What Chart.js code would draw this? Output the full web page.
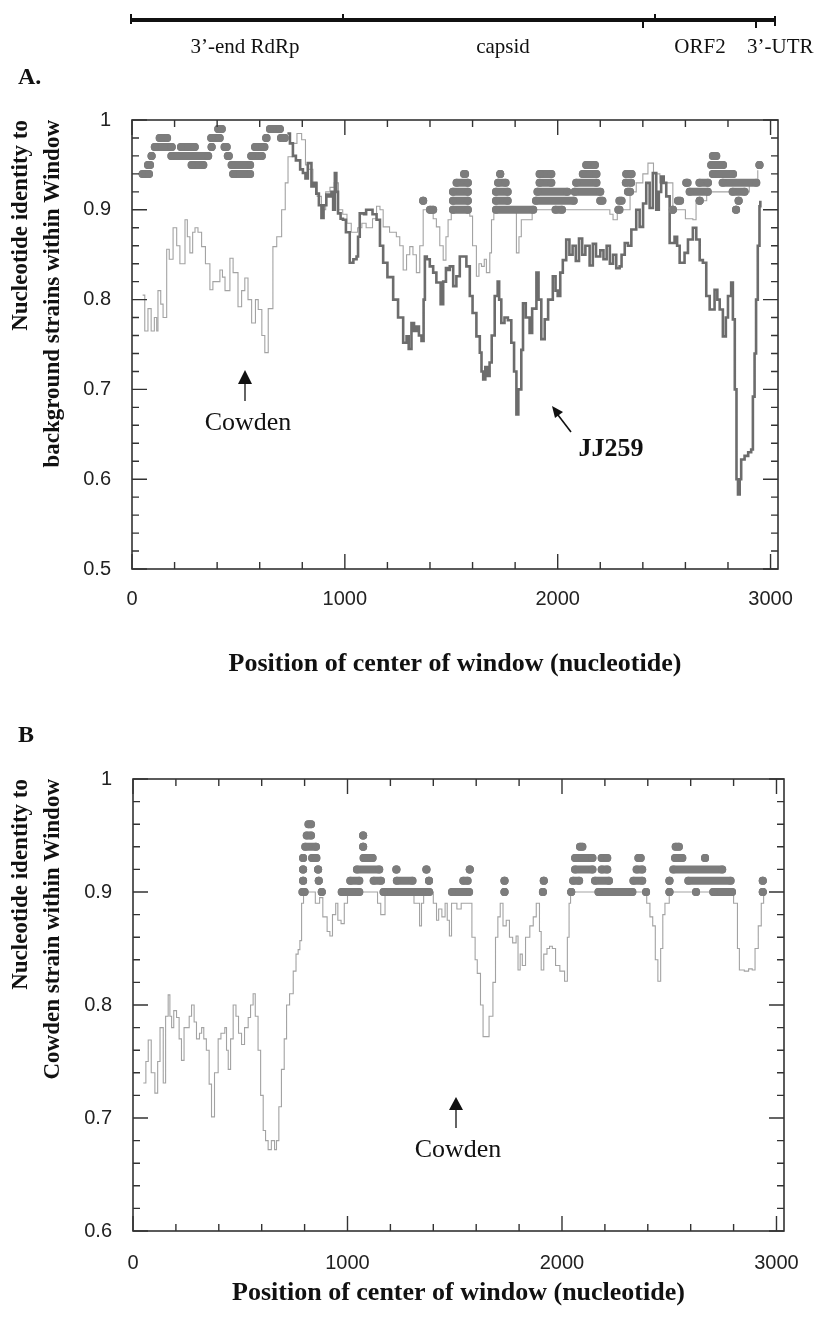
<!DOCTYPE html>
<html><head><meta charset="utf-8">
<script src="https://cdn.jsdelivr.net/npm/chart.js@4.4.0/dist/chart.umd.min.js"></script>
<style>
html,body{margin:0;padding:0;background:#fff;}
body{width:832px;height:1317px;position:relative;overflow:hidden;font-family:"Liberation Serif",serif;color:#111;}
.t{position:absolute;white-space:nowrap;line-height:1;}
canvas{position:absolute;left:0;}
#cA{top:90px;}
#cB{top:730px;}
#ov{position:absolute;left:0;top:0;}
</style></head><body>
<canvas id="cA" width="832" height="600" style="width:832px;height:600px"></canvas>
<canvas id="cB" width="832" height="587" style="width:832px;height:587px"></canvas>
<svg id="ov" width="832" height="1317" viewBox="0 0 832 1317">
  <rect x="130" y="18" width="646" height="4" fill="#111"/>
  <rect x="130" y="14" width="2" height="10" fill="#111"/>
  <rect x="342" y="14" width="2" height="6" fill="#111"/>
  <rect x="642" y="20" width="2" height="8" fill="#111"/>
  <rect x="654" y="14" width="2" height="6" fill="#111"/>
  <rect x="755" y="20" width="2" height="8" fill="#111"/>
  <rect x="774" y="16" width="2" height="10" fill="#111"/>
  <line x1="245" y1="383" x2="245" y2="401" stroke="#111" stroke-width="1.3"/>
  <polygon points="238,384 252,384 245,370" fill="#111"/>
  <line x1="456" y1="1109" x2="456" y2="1128" stroke="#111" stroke-width="1.3"/>
  <polygon points="449,1110 463,1110 456,1097" fill="#111"/>
  <line x1="558" y1="415" x2="571" y2="432" stroke="#111" stroke-width="1.6"/>
  <polygon points="552,406 563,412 555,418" fill="#111"/>
</svg>
<div class="t" style="left:245px;top:36px;font-size:21px;transform:translateX(-50%)">3’-end RdRp</div>
<div class="t" style="left:503px;top:36px;font-size:21px;transform:translateX(-50%)">capsid</div>
<div class="t" style="left:700px;top:36px;font-size:21px;transform:translateX(-50%)">ORF2</div>
<div class="t" style="left:747px;top:36px;font-size:21px;">3’-UTR</div>
<div class="t" style="left:18px;top:64px;font-size:24px;font-weight:bold;">A.</div>
<div class="t" style="left:18px;top:722px;font-size:24px;font-weight:bold;">B</div>
<div class="t" style="left:248px;top:409px;font-size:26px;transform:translateX(-50%)">Cowden</div>
<div class="t" style="left:611px;top:435px;font-size:26px;font-weight:bold;transform:translateX(-50%)">JJ259</div>
<div class="t" style="left:458px;top:1136px;font-size:26px;transform:translateX(-50%)">Cowden</div>
<script>
// ---------------- DATA ----------------
const xTicks = [0,200,400,600,800,1000,1200,1400,1600,1800,2000,2200,2400,2600,2800,3000];
const yTicksA = [0.5,0.52,0.54,0.56,0.58,0.6,0.62,0.64,0.66,0.68,0.7,0.72,0.74,0.76,0.78,0.8,0.82,0.84,0.86,0.88,0.9,0.92,0.94,0.96,0.98,1];
const yTicksB = [0.6,0.62,0.64,0.66,0.68,0.7,0.72,0.74,0.76,0.78,0.8,0.82,0.84,0.86,0.88,0.9,0.92,0.94,0.96,0.98,1];

// Panel A: light line (Cowden vs background)
const lightAx = [50,60,75,90,105,116,122,135,146,163,175,193,210,225,249,260,272,285,296,310,327,345,366,380,395,413,425,437,460,475,498,515,530,545,562,580,593,610,624,640,662,680,703,720,733,756,775,797,815,830,850,870,890,910,930,950,970,990,1010,1030,1060,1080,1100,1130,1149,1165,1180,1210,1242,1258,1274,1290,1305,1320,1336,1352,1368,1385,1399,1415,1430,1446,1462,1475,1485,1500,1540,1587,1600,1618,1630,1642,1655,1665,1681,1689,1700,1790,1806,1818,1829,1860,1880,2070,2200,2226,2245,2260,2280,2340,2369,2400,2424,2450,2480,2541,2600,2635,2650,2700,2900,2940];
const lightAy = [0.805,0.765,0.79,0.765,0.78,0.765,0.81,0.795,0.78,0.856,0.845,0.88,0.86,0.84,0.889,0.87,0.852,0.875,0.88,0.875,0.859,0.84,0.811,0.82,0.82,0.833,0.825,0.81,0.846,0.83,0.792,0.81,0.824,0.8,0.774,0.8,0.789,0.76,0.741,0.79,0.859,0.87,0.9,0.93,0.959,0.974,0.985,0.978,0.95,0.945,0.93,0.915,0.9,0.92,0.925,0.93,0.9,0.895,0.885,0.875,0.88,0.885,0.88,0.89,0.904,0.9,0.881,0.875,0.87,0.86,0.833,0.85,0.859,0.85,0.83,0.86,0.9,0.9,0.896,0.89,0.881,0.86,0.844,0.87,0.889,0.9,0.9,0.893,0.86,0.826,0.84,0.837,0.845,0.83,0.852,0.889,0.9,0.9,0.852,0.87,0.889,0.889,0.9,0.9,0.9,0.9,0.895,0.889,0.9,0.92,0.93,0.94,0.952,0.94,0.93,0.9,0.89,0.889,0.91,0.92,0.93,0.944];

// Panel A: dark line (JJ259)
const darkAx = [730,742,756,770,790,803,815,826,843,855,866,878,890,900,913,925,937,945,953,960,968,980,991,1005,1023,1040,1055,1062,1070,1090,1100,1117,1130,1149,1165,1180,1200,1227,1250,1274,1290,1300,1313,1325,1336,1348,1360,1370,1376,1385,1399,1415,1430,1450,1462,1475,1485,1493,1509,1524,1540,1556,1571,1587,1600,1618,1634,1642,1650,1660,1670,1680,1690,1704,1718,1725,1735,1750,1766,1782,1795,1806,1815,1829,1837,1850,1868,1880,1900,1910,1923,1939,1955,1977,1990,2000,2012,2024,2040,2055,2070,2085,2100,2115,2130,2150,2165,2180,2200,2215,2230,2245,2260,2275,2291,2300,2315,2330,2346,2369,2385,2401,2416,2432,2447,2463,2475,2486,2498,2510,2526,2549,2561,2573,2596,2612,2635,2651,2667,2682,2698,2714,2737,2750,2761,2776,2790,2800,2815,2823,2832,2840,2847,2855,2862,2878,2895,2909,2917,2925,2932,2940,2948,2952];
const darkAy = [0.985,0.974,0.96,0.955,0.945,0.941,0.935,0.952,0.926,0.93,0.918,0.905,0.891,0.905,0.917,0.915,0.92,0.9,0.941,0.92,0.896,0.89,0.889,0.875,0.841,0.845,0.848,0.87,0.896,0.895,0.9,0.9,0.895,0.889,0.86,0.841,0.825,0.8,0.78,0.752,0.759,0.745,0.774,0.765,0.77,0.76,0.754,0.8,0.848,0.845,0.837,0.83,0.819,0.795,0.82,0.835,0.833,0.837,0.815,0.826,0.848,0.848,0.837,0.804,0.785,0.759,0.741,0.72,0.711,0.725,0.715,0.73,0.76,0.804,0.82,0.8,0.774,0.78,0.777,0.752,0.72,0.672,0.7,0.744,0.796,0.78,0.763,0.79,0.83,0.8,0.756,0.778,0.8,0.826,0.81,0.804,0.83,0.844,0.867,0.85,0.86,0.843,0.868,0.85,0.86,0.838,0.862,0.848,0.855,0.845,0.86,0.84,0.85,0.835,0.837,0.85,0.863,0.86,0.878,0.9,0.881,0.907,0.93,0.902,0.941,0.9,0.92,0.937,0.93,0.915,0.863,0.87,0.86,0.841,0.852,0.867,0.88,0.867,0.844,0.841,0.804,0.789,0.811,0.8,0.789,0.759,0.78,0.804,0.819,0.778,0.7,0.6,0.583,0.6,0.622,0.626,0.63,0.633,0.692,0.74,0.8,0.86,0.904,0.91];

// Panel A: high-identity dots  [identity, first centre, last centre]
const dotsA = [
  [0.99,405,422],[0.99,648,695],
  [0.98,130,165],[0.98,372,412],[0.98,630,633],[0.98,700,718],
  [0.97,107,187],[0.97,230,295],[0.97,374,374],[0.97,435,445],[0.97,578,622],
  [0.96,92,92],[0.96,185,358],[0.96,450,455],[0.96,560,610],
  [0.95,75,85],[0.95,280,335],[0.95,468,555],
  [0.94,50,80],[0.94,475,555],
  [0.91,1368,1368],[0.90,1400,1415],
  [0.90,1508,1578],[0.91,1508,1578],[0.92,1508,1578],[0.93,1525,1578],[0.94,1560,1565],
  [0.90,1710,1885],[0.91,1710,1765],[0.92,1710,1765],[0.93,1720,1755],[0.94,1730,1730],
  [0.90,1990,2020],[0.91,1898,2075],[0.91,2200,2210],[0.92,1905,2045],[0.92,2080,2200],
  [0.93,1915,1970],[0.93,2087,2182],[0.94,1915,1970],[0.94,2118,2182],[0.95,2134,2175],
  [0.90,2285,2290],[0.91,2290,2300],[0.92,2330,2340],[0.93,2320,2345],[0.94,2322,2347],
  [0.90,2541,2541],[0.90,2838,2838],[0.91,2565,2575],[0.91,2667,2667],[0.91,2850,2850],
  [0.92,2620,2705],[0.92,2822,2878],[0.93,2604,2610],[0.93,2666,2706],[0.93,2775,2933],
  [0.94,2729,2824],[0.95,2721,2777],[0.96,2729,2745],[0.95,2948,2948]
];

// Panel B: light line (identity to Cowden)
const lightBx = [48,60,71,85,102,115,126,141,152,164,172,180,190,203,215,226,238,249,262,273,285,296,310,320,330,342,355,366,380,397,410,428,436,444,455,467,480,492,506,520,537,548,560,570,583,595,607,618,630,645,660,669,680,692,705,716,730,747,760,770,778,786,795,830,850,870,885,894,905,918,930,945,955,970,985,1000,1120,1140,1155,1165,1175,1300,1310,1336,1345,1355,1390,1400,1415,1425,1440,1455,1465,1475,1485,1510,1530,1570,1580,1595,1605,1620,1632,1648,1660,1678,1690,1701,1712,1725,1740,1755,1770,1786,1795,1805,1815,1830,1850,1866,1880,1895,1903,1915,1930,1942,1955,1970,1990,2012,2025,2033,2040,2380,2395,2410,2423,2435,2447,2460,2470,2480,2500,2790,2800,2811,2818,2827,2850,2870,2887,2900,2915,2929,2940];
const lightBy = [0.731,0.75,0.769,0.74,0.722,0.75,0.78,0.731,0.79,0.809,0.79,0.78,0.795,0.789,0.77,0.751,0.78,0.78,0.79,0.8,0.785,0.77,0.775,0.78,0.77,0.76,0.73,0.701,0.74,0.77,0.775,0.78,0.76,0.743,0.77,0.8,0.79,0.775,0.765,0.78,0.789,0.8,0.81,0.79,0.76,0.72,0.689,0.68,0.672,0.68,0.672,0.68,0.71,0.743,0.77,0.8,0.81,0.83,0.845,0.849,0.857,0.89,0.9,0.9,0.89,0.895,0.878,0.878,0.865,0.861,0.88,0.89,0.875,0.872,0.89,0.9,0.9,0.89,0.88,0.88,0.9,0.9,0.89,0.87,0.89,0.9,0.9,0.89,0.875,0.885,0.878,0.89,0.875,0.861,0.89,0.885,0.89,0.89,0.86,0.84,0.828,0.8,0.772,0.772,0.79,0.82,0.86,0.878,0.89,0.87,0.875,0.86,0.855,0.861,0.831,0.845,0.835,0.86,0.87,0.878,0.89,0.865,0.831,0.845,0.85,0.852,0.85,0.835,0.83,0.821,0.86,0.89,0.9,0.9,0.89,0.878,0.87,0.84,0.821,0.85,0.88,0.89,0.9,0.9,0.89,0.89,0.85,0.831,0.83,0.832,0.831,0.85,0.87,0.89,0.9];

// Panel B: high-identity dots  [identity, first centre, last centre]
const dotsB = [
  [0.96,818,830],[0.95,810,830],[0.94,803,853],[0.93,793,793],[0.93,835,855],
  [0.92,793,793],[0.92,863,863],[0.91,793,793],[0.91,866,866],[0.90,790,800],[0.90,880,880],
  [0.90,973,1055],[0.90,1168,1381],[0.91,1013,1055],[0.91,1122,1156],[0.91,1230,1303],[0.91,1380,1380],
  [0.92,1044,1148],[0.92,1228,1228],[0.92,1368,1368],[0.93,1075,1117],[0.94,1073,1073],[0.95,1073,1073],
  [0.90,1487,1567],[0.90,1732,1732],[0.90,1911,1911],[0.90,2043,2043],[0.90,2170,2328],[0.90,2392,2392],
  [0.90,2501,2501],[0.90,2625,2625],[0.90,2705,2793],[0.90,2936,2936],
  [0.91,1540,1560],[0.91,1732,1732],[0.91,1915,1915],[0.91,2052,2080],[0.91,2154,2219],[0.91,2333,2374],
  [0.91,2501,2501],[0.91,2589,2786],[0.91,2936,2936],
  [0.92,1570,1570],[0.92,2061,2142],[0.92,2185,2211],[0.92,2348,2374],[0.92,2519,2747],
  [0.93,2061,2142],[0.93,2185,2211],[0.93,2356,2367],[0.93,2527,2561],[0.93,2667,2667],
  [0.94,2084,2095],[0.94,2530,2545]
];

const xTitle = 'Position of center of window (nucleotide)';
const yTitleA = ['Nucleotide identity to', 'background strains within Window'];
const yTitleB = ['Nucleotide identity to', 'Cowden strain within Window'];

// ---------------- BUILD ----------------
const pts = (xs, ys) => xs.map((x, i) => ({x, y: ys[i]}));
const runs = list => {
  const d = [];
  list.forEach(([y, a, b]) => { d.push({x: a, y}); d.push({x: b, y}); d.push({x: b, y: null}); });
  return d;
};
const isMajorX = v => Math.round(v) % 1000 === 0;
const isMajorY = v => Math.abs(v * 10 - Math.round(v * 10)) < 1e-6;

const frameTicks = {
  id: 'frameTicks',
  afterDatasetsDraw(chart) {
    const {ctx, chartArea: a, scales: {x, y}} = chart;
    ctx.save();
    ctx.strokeStyle = '#333';
    ctx.lineWidth = 1.6;
    ctx.strokeRect(a.left, a.top, a.right - a.left, a.bottom - a.top);
    ctx.lineWidth = 1.4;
    ctx.beginPath();
    x.ticks.forEach(t => {
      const p = x.getPixelForValue(t.value);
      const L = isMajorX(t.value) ? 15 : 7;
      ctx.moveTo(p, a.bottom); ctx.lineTo(p, a.bottom - L);
      ctx.moveTo(p, a.top); ctx.lineTo(p, a.top + L);
    });
    y.ticks.forEach(t => {
      const p = y.getPixelForValue(t.value);
      const L = isMajorY(t.value) ? 15 : 7;
      ctx.moveTo(a.left, p); ctx.lineTo(a.left + L, p);
      ctx.moveTo(a.right, p); ctx.lineTo(a.right - L, p);
    });
    ctx.stroke();
    ctx.restore();
  }
};

function makeChart(id, cfg) {
  const datasets = [
    {data: runs(cfg.dots), borderColor: '#7c7c7c', backgroundColor: '#7c7c7c', borderWidth: 8,
     borderCapStyle: 'round', pointRadius: 4, pointBorderWidth: 0, spanGaps: false, order: 0},
  ];
  if (cfg.dark) datasets.push({data: cfg.dark, borderColor: '#6c6c6c', borderWidth: 2.6, pointRadius: 0, stepped: true, order: 1});
  datasets.push({data: cfg.light, borderColor: '#a3a3a3', borderWidth: 1.1, pointRadius: 0, stepped: true, order: 2});
  return new Chart(document.getElementById(id), {
    type: 'line',
    data: {datasets},
    plugins: [frameTicks],
    options: {
      responsive: false, animation: false, events: [],
      layout: {padding: {left: 0, top: cfg.padTop, right: cfg.padRight, bottom: 0}},
      plugins: {legend: {display: false}, tooltip: {enabled: false}},
      scales: {
        x: {
          type: 'linear', min: 0, max: 3035,
          grid: {display: false}, border: {display: false},
          afterBuildTicks: s => { s.ticks = xTicks.map(v => ({value: v})); },
          ticks: {autoSkip: false, maxRotation: 0, padding: cfg.xLabelPad,
                  color: '#222', font: {family: 'Liberation Sans', size: 20},
                  callback: v => (isMajorX(v) ? String(v) : '')},
          title: {display: true, text: xTitle, color: '#111',
                  font: {family: 'Liberation Serif', size: 26, weight: 'bold'}, padding: {top: 0, bottom: cfg.xTitlePad}},
          afterFit: s => { s.height = cfg.xAxisH; }
        },
        y: {
          type: 'linear', min: cfg.yMin, max: 1,
          grid: {display: false}, border: {display: false},
          afterBuildTicks: s => { s.ticks = cfg.yTicks.map(v => ({value: v})); },
          ticks: {autoSkip: false, padding: 13,
                  color: '#222', font: {family: 'Liberation Sans', size: 20},
                  callback: v => (isMajorY(v) ? String(Number(v.toFixed(1))) : '')},
          title: {display: true, text: cfg.yTitle, align: 'end', color: '#111',
                  font: {family: 'Liberation Serif', size: 23, weight: 'bold', lineHeight: 1.4}, padding: {top: 5, bottom: 0}},
          afterFit: s => { s.width = cfg.yAxisW; }
        }
      }
    }
  });
}

makeChart('cA', {dots: dotsA, dark: pts(darkAx, darkAy), light: pts(lightAx, lightAy), yMin: 0.5, yTicks: yTicksA,
  yTitle: yTitleA, padTop: 30, padRight: 54, xAxisH: 121, yAxisW: 132, xTitlePad: 10, xLabelPad: 10});
makeChart('cB', {dots: dotsB, dark: null, light: pts(lightBx, lightBy), yMin: 0.6, yTicks: yTicksB,
  yTitle: yTitleB, padTop: 49, padRight: 48, xAxisH: 86, yAxisW: 133, xTitlePad: 8, xLabelPad: 12});
</script>
</body></html>
